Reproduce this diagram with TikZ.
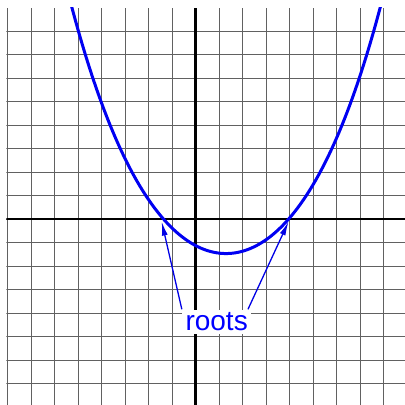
\documentclass[tikz,border=0pt]{standalone}
\usepackage{fontspec}
\setmainfont{Liberation Sans}
\usepackage{tikz}
\usetikzlibrary{arrows.meta, positioning}
\tikzset{
  gridline/.style={draw=black!62, line width=1pt},
  axisline/.style={draw=black, line width=2.6pt},
  curve/.style={draw=blue!95!black, line width=3pt},
  tag/.style={fill=white, text=blue, inner xsep=3.5pt, inner ysep=3pt, font=\fontsize{28}{30}\selectfont},
  arrow/.style={-{Latex[length=14pt, width=6pt]}, draw=blue!90!black, line width=1.3pt},
}

\begin{document}
\begin{tikzpicture}[x=23.5pt, y=23.5pt]
\useasboundingbox (-8.32,-7.915) rectangle (8.915,9.32);
\begin{scope}
\clip (-8.05,-7.915) rectangle (8.915,9);
\foreach \i in {-8,...,8} \draw[gridline] (\i,-7.915) -- (\i,9);
\foreach \j in {-7,...,8} \draw[gridline] (-8.05,\j) -- (8.915,\j);
\draw[axisline] (-8.05,0) -- (8.915,0);
\draw[axisline] (0,-7.915) -- (0,9);
\draw[curve] plot[domain=-5.5:8.1, samples=120, smooth]
  (\x, {0.2*(\x-1.3)^2 + 0.001*(\x-1.3)^4 - 1.47});
\end{scope}
\coordinate (rootL) at (-1.44,-0.11);
\coordinate (rootR) at (3.96,-0.11);
\node[tag] (roots) at (0.9,-4.37) {roots};
\draw[arrow] (roots.north west) -- (rootL);
\draw[arrow] ([xshift=-3.5pt]roots.north east) -- (rootR);
\end{tikzpicture}
\end{document}
